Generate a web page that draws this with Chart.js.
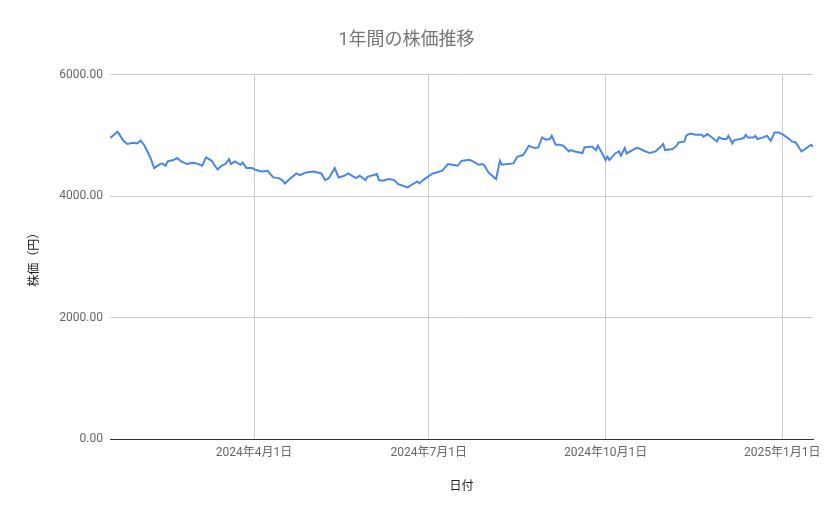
<!DOCTYPE html>
<html>
<head>
<meta charset="utf-8">
<script src="https://cdn.jsdelivr.net/npm/chart.js@4/dist/chart.umd.min.js"></script>
<style>
  html, body { margin: 0; padding: 0; background: #fff; }
  #wrap { width: 839px; height: 519px; }
</style>
</head>
<body>
<div id="wrap"><canvas id="chart"></canvas></div>
<script>
const dates = [
  "2024-01-17","2024-01-21","2024-01-24","2024-01-26","2024-01-29","2024-01-31","2024-02-02","2024-02-04",
  "2024-02-07","2024-02-09","2024-02-12","2024-02-13","2024-02-15","2024-02-16","2024-02-19","2024-02-21",
  "2024-02-23","2024-02-26","2024-02-29","2024-03-02","2024-03-05","2024-03-07","2024-03-10","2024-03-11",
  "2024-03-13","2024-03-15","2024-03-17","2024-03-19","2024-03-20","2024-03-22","2024-03-25","2024-03-26",
  "2024-03-28","2024-03-31","2024-04-02","2024-04-05","2024-04-08","2024-04-11","2024-04-14","2024-04-16",
  "2024-04-17","2024-04-19","2024-04-23","2024-04-25","2024-04-28","2024-05-02","2024-05-06","2024-05-08",
  "2024-05-10","2024-05-13","2024-05-15","2024-05-18","2024-05-20","2024-05-24","2024-05-26","2024-05-29",
  "2024-05-30","2024-06-04","2024-06-05","2024-06-07","2024-06-10","2024-06-13","2024-06-15","2024-06-20",
  "2024-06-22","2024-06-25","2024-06-26","2024-06-28","2024-07-03","2024-07-05","2024-07-08","2024-07-11",
  "2024-07-14","2024-07-16","2024-07-18","2024-07-22","2024-07-24","2024-07-27","2024-07-29","2024-07-30",
  "2024-08-01","2024-08-03","2024-08-05","2024-08-07","2024-08-08","2024-08-11","2024-08-14","2024-08-16",
  "2024-08-19","2024-08-20","2024-08-22","2024-08-25","2024-08-27","2024-08-29","2024-08-31","2024-09-02",
  "2024-09-03","2024-09-05","2024-09-07","2024-09-09","2024-09-12","2024-09-13","2024-09-15","2024-09-19",
  "2024-09-20","2024-09-23","2024-09-24","2024-09-26","2024-09-27","2024-09-29","2024-10-01","2024-10-02",
  "2024-10-03","2024-10-06","2024-10-08","2024-10-09","2024-10-11","2024-10-12","2024-10-15","2024-10-17",
  "2024-10-18","2024-10-21","2024-10-24","2024-10-27","2024-10-29","2024-10-31","2024-11-01","2024-11-05",
  "2024-11-07","2024-11-08","2024-11-11","2024-11-12","2024-11-14","2024-11-17","2024-11-20","2024-11-21",
  "2024-11-23","2024-11-25","2024-11-28","2024-11-29","2024-12-01","2024-12-03","2024-12-04","2024-12-06",
  "2024-12-07","2024-12-10","2024-12-12","2024-12-13","2024-12-14","2024-12-17","2024-12-18","2024-12-19",
  "2024-12-22","2024-12-24","2024-12-26","2024-12-28","2024-12-30","2025-01-01","2025-01-04","2025-01-06",
  "2025-01-08","2025-01-11","2025-01-13","2025-01-14","2025-01-16","2025-01-17"
];
const prices = [
  4956,5059,4911,4857,4878,4867,4911,4829,
  4636,4461,4527,4538,4499,4570,4593,4626,
  4570,4527,4548,4538,4499,4636,4581,4527,
  4438,4499,4527,4609,4527,4570,4515,4554,
  4461,4461,4428,4406,4417,4307,4296,4252,
  4208,4263,4373,4345,4389,4406,4373,4263,
  4296,4461,4307,4334,4373,4296,4334,4263,
  4318,4362,4263,4252,4280,4263,4197,4142,
  4186,4241,4208,4263,4373,4389,4417,4527,
  4510,4499,4578,4598,4570,4515,4527,4499,
  4389,4334,4280,4581,4515,4527,4538,4647,
  4675,4718,4829,4790,4801,4966,4928,4939,
  4993,4845,4845,4829,4735,4757,4735,4708,
  4801,4812,4812,4757,4829,4718,4593,4647,
  4593,4702,4735,4664,4790,4702,4757,4790,
  4790,4746,4708,4735,4790,4857,4757,4774,
  4829,4883,4895,4993,5031,5010,5010,4977,
  5021,4977,4900,4966,4939,4939,4993,4867,
  4922,4939,4955,5010,4966,4966,4993,4939,
  4966,4993,4911,5048,5048,5021,4955,4900,
  4883,4735,4774,4801,4845,4812
];
const tickDates = ["2024-04-01", "2024-07-01", "2024-10-01", "2025-01-01"];
const tickLabels = ["2024年4月1日", "2024年7月1日", "2024年10月1日", "2025年1月1日"];
const yTicks = [0, 2000, 4000, 6000];

// days since 2024-01-01, used as the linear x value
const toDay = (s) => {
  const [y, m, d] = s.split("-").map(Number);
  return (Date.UTC(y, m - 1, d) - Date.UTC(2024, 0, 1)) / 86400000;
};

const points = dates.map((d, i) => ({ x: toDay(d), y: prices[i] }));
const tickDays = tickDates.map(toDay);

const FONT = "Roboto, 'Noto Sans CJK JP', sans-serif";

new Chart(document.getElementById("chart"), {
  type: "line",
  data: {
    datasets: [{
      label: "株価",
      data: points,
      borderColor: "#4a86e8",
      borderWidth: 2,
      pointRadius: 0,
      tension: 0,
      fill: false,
    }],
  },
  options: {
    responsive: true,
    maintainAspectRatio: false,
    animation: false,
    layout: { padding: { left: 0, right: 26, top: 0, bottom: 0 } },
    plugins: {
      legend: { display: false },
      tooltip: { enabled: false },
      title: {
        display: true,
        text: "1年間の株価推移",
        color: "#757575",
        font: { family: FONT, size: 18, weight: "normal" },
        padding: { top: 30, bottom: 23 },
      },
    },
    scales: {
      x: {
        type: "linear",
        min: toDay(dates[0]),
        max: toDay(dates[dates.length - 1]),
        afterBuildTicks: (scale) => { scale.ticks = tickDays.map((v) => ({ value: v })); },
        afterFit: (scale) => { scale.height = 80; },
        ticks: {
          autoSkip: false,
          maxRotation: 0,
          padding: 7,
          color: "#666",
          font: { family: FONT, size: 12 },
          callback: (v) => tickLabels[tickDays.indexOf(v)],
        },
        grid: { color: "#ccc", drawTicks: false },
        border: { display: true, color: "#333", width: 1 },
        title: {
          display: true,
          text: "日付",
          color: "#222",
          font: { family: FONT, size: 12 },
          padding: { top: 0, bottom: 25 },
        },
      },
      y: {
        min: 0,
        max: 6000,
        afterBuildTicks: (scale) => { scale.ticks = yTicks.map((v) => ({ value: v })); },
        afterFit: (scale) => { scale.width = 110; },
        ticks: {
          padding: 7,
          color: "#666",
          font: { family: FONT, size: 12 },
          callback: (v) => v.toFixed(2),
        },
        grid: {
          color: (ctx) => (ctx.tick && ctx.tick.value === 0 ? "#333" : "#ccc"),
          drawTicks: false,
        },
        border: { display: false },
        title: {
          display: true,
          text: "株価（円）",
          color: "#222",
          font: { family: FONT, size: 12 },
          padding: { top: 28, bottom: 0 },
        },
      },
    },
  },
});
</script>
</body>
</html>
